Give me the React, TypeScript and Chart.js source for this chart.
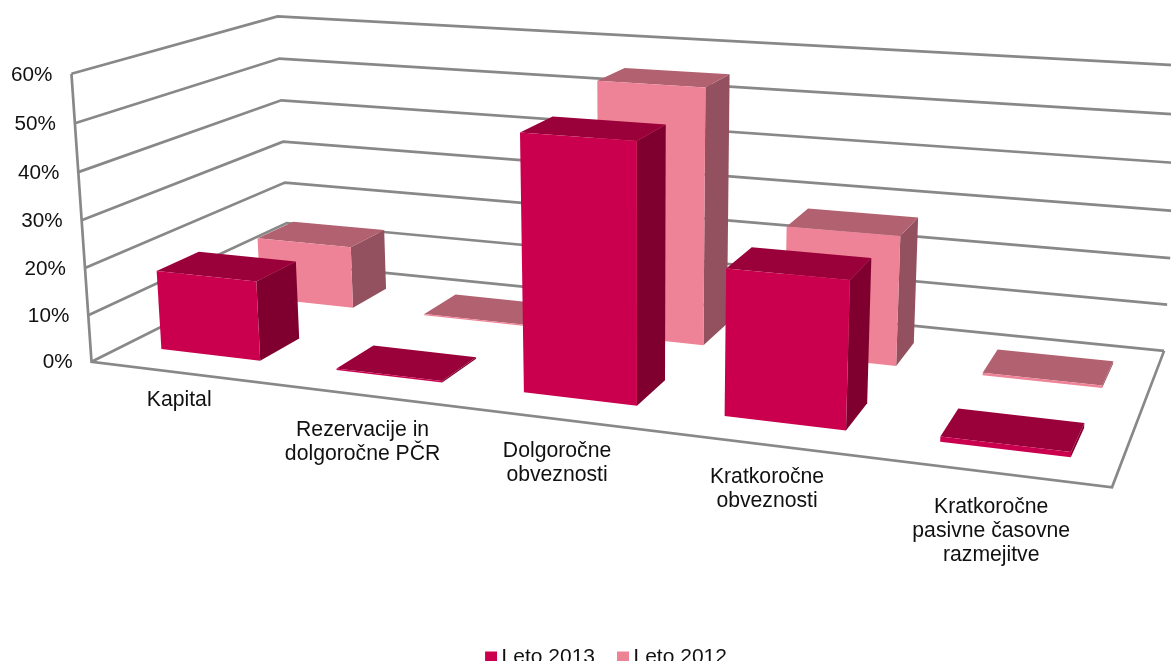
import React, { useEffect, useRef } from "react";
import { Chart, registerables } from "chart.js";

Chart.register(...registerables);

const categories = [
  ["Kapital"],
  ["Rezervacije in", "dolgoročne PČR"],
  ["Dolgoročne", "obveznosti"],
  ["Kratkoročne", "obveznosti"],
  ["Kratkoročne", "pasivne časovne", "razmejitve"],
];
const leto2013 = [17, 0.3, 52, 29, 1];
const leto2012 = [14, 0.3, 55, 27.3, 0.5];
const yMax = 60;
const yStep = 10;

// ---- view configuration (not data) ----
const VIEW: [number, number, number, number, number][] = [
  [0, 0, 0, 91, 361],
  [1, 0, 0, 1112, 488],
  [0, 1, 0, 289, 264],
  [1, 1, 0, 1164, 350],
  [0, 0, 1, 72, 74],
  [0, 1, 1, 277, 16],
  [1, 1, 1, 1183, 66],
];
const DEPTH_SPANS = [
  [0.15, 0.35],
  [0.65, 0.85],
];
const LABEL_NUDGE = [
  [1, 16],
  [2, 23],
  [1, 20],
  [1, 20],
  [-1, 22],
];
const GRID = "#888888";
const FACES = [
  { front: "#CA004E", top: "#9A0039", side: "#7F002F" },
  { front: "#EE8296", top: "#B26170", side: "#93515F" },
];
const FONT = "'Liberation Sans', Arial, sans-serif";

function solveCamera() {
  const rows: number[][] = [];
  const rhs: number[] = [];
  for (const [u, d, v, X, Y] of VIEW) {
    rows.push([1, u, d, v, 0, 0, 0, 0, -X * u, -X * d, -X * v]);
    rhs.push(X);
    rows.push([0, 0, 0, 0, 1, u, d, v, -Y * u, -Y * d, -Y * v]);
    rhs.push(Y);
  }
  const n = 11;
  const A: number[][] = [];
  for (let i = 0; i < n; i++) {
    const r = new Array(n + 1).fill(0);
    for (let j = 0; j < n; j++) rows.forEach((row) => (r[j] += row[i] * row[j]));
    rows.forEach((row, k) => (r[n] += row[i] * rhs[k]));
    A.push(r);
  }
  for (let i = 0; i < n; i++) {
    let p = i;
    for (let k = i + 1; k < n; k++) if (Math.abs(A[k][i]) > Math.abs(A[p][i])) p = k;
    [A[i], A[p]] = [A[p], A[i]];
    for (let k = 0; k < n; k++) {
      if (k === i) continue;
      const f = A[k][i] / A[i][i];
      for (let j = i; j <= n; j++) A[k][j] -= f * A[i][j];
    }
  }
  return A.map((r, i) => r[n] / r[i]);
}
const cam = solveCamera();
function project(u: number, d: number, v: number): [number, number] {
  const w = 1 + cam[8] * u + cam[9] * d + cam[10] * v;
  return [
    (cam[0] + cam[1] * u + cam[2] * d + cam[3] * v) / w,
    (cam[4] + cam[5] * u + cam[6] * d + cam[7] * v) / w,
  ];
}

function poly(ctx: CanvasRenderingContext2D, pts: [number, number][], fill: string) {
  ctx.beginPath();
  pts.forEach((p, i) => (i ? ctx.lineTo(p[0], p[1]) : ctx.moveTo(p[0], p[1])));
  ctx.closePath();
  ctx.fillStyle = fill;
  ctx.fill();
}
function stroke(ctx: CanvasRenderingContext2D, pts: [number, number][]) {
  ctx.beginPath();
  pts.forEach((p, i) => (i ? ctx.lineTo(p[0], p[1]) : ctx.moveTo(p[0], p[1])));
  ctx.stroke();
}

const scene3d = {
  id: "scene3d",
  beforeDraw(chart: any) {
    const area = chart.chartArea;
    const ys = chart.scales.y;
    const xs = chart.scales.x;
    // tick labels follow the projected walls, so they may leave their axis boxes
    ys._computeLabelArea = () => undefined;
    xs._computeLabelArea = () => undefined;
    ys.getLabelItems().forEach((it: any, i: number) => {
      const v = (area.bottom - ys.getPixelForTick(i)) / area.height;
      const p = project(0, 0, v);
      it.options.translation = [p[0] - 19, p[1] + 1];
    });
    xs.getLabelItems().forEach((it: any, i: number) => {
      const u = (xs.getPixelForTick(i) - area.left) / area.width;
      const p = project(u, 0, 0);
      it.options.translation = [p[0] + LABEL_NUDGE[i][0], p[1] + LABEL_NUDGE[i][1]];
    });
  },
  beforeDatasetsDraw(chart: any) {
    const ctx: CanvasRenderingContext2D = chart.ctx;
    const area = chart.chartArea;
    const ys = chart.scales.y;
    ctx.save();
    ctx.strokeStyle = GRID;
    ctx.lineWidth = 2.7;
    ctx.lineJoin = "miter";
    ys.ticks.forEach((t: any) => {
      const v = (area.bottom - ys.getPixelForValue(t.value)) / area.height;
      stroke(ctx, [project(0, 0, v), project(0, 1, v), project(1, 1, v)]);
    });
    stroke(ctx, [project(0, 0, 1), project(0, 0, 0), project(1, 0, 0), project(1, 1, 0)]);

    [1, 0].forEach((ds) => {
      const [d0, d1] = DEPTH_SPANS[ds];
      const f = FACES[ds];
      chart.getDatasetMeta(ds).data.forEach((el: any) => {
        const u0 = (el.x - el.width / 2 - area.left) / area.width;
        const u1 = (el.x + el.width / 2 - area.left) / area.width;
        const v = (area.bottom - el.y) / area.height;
        const a = project(u0, d0, 0), b = project(u1, d0, 0);
        const c = project(u1, d0, v), e = project(u0, d0, v);
        const g = project(u1, d1, 0), h = project(u1, d1, v), k = project(u0, d1, v);
        poly(ctx, [b, g, h, c], f.side);
        poly(ctx, [e, c, h, k], f.top);
        poly(ctx, [a, b, c, e], f.front);
      });
    });
    ctx.restore();
    return false;
  },
};

export default function App() {
  const ref = useRef<HTMLCanvasElement>(null);
  useEffect(() => {
    const chart = new Chart(ref.current!, {
      type: "bar",
      data: {
        labels: categories as any,
        datasets: [
          { label: "Leto 2013", data: leto2013, backgroundColor: FACES[0].front, borderWidth: 0 },
          { label: "Leto 2012", data: leto2012, backgroundColor: FACES[1].front, borderWidth: 0 },
        ],
      },
      plugins: [scene3d],
      options: {
        animation: false,
        responsive: false,
        devicePixelRatio: 1,
        datasets: { bar: { grouped: false, barPercentage: 0.572, categoryPercentage: 1 } },
        layout: { padding: 0 },
        plugins: {
          tooltip: { enabled: false },
          legend: {
            position: "bottom",
            labels: {
              usePointStyle: true,
              pointStyle: "rect",
              boxWidth: 0.01,
              boxHeight: 12,
              padding: 28,
              color: "#111",
              font: { family: FONT, size: 21 },
            },
          },
        },
        scales: {
          x: {
            grid: { display: false },
            border: { display: false },
            ticks: {
              autoSkip: false,
              maxRotation: 0,
              minRotation: 0,
              color: "#111",
              font: { family: FONT, size: 21.2, lineHeight: 1.14 },
            },
          },
          y: {
            min: 0,
            max: yMax,
            grid: { display: false },
            border: { display: false },
            ticks: {
              stepSize: yStep,
              color: "#111",
              font: { family: FONT, size: 20.7 },
              callback: (v: any) => `${v}%`,
            },
          },
        },
      },
    } as any);
    return () => chart.destroy();
  }, []);
  return (
    <div style={{ position: "fixed", inset: 0, overflow: "hidden", background: "#fff" }}>
      <canvas ref={ref} width={1218} height={678} style={{ display: "block" }} />
    </div>
  );
}
